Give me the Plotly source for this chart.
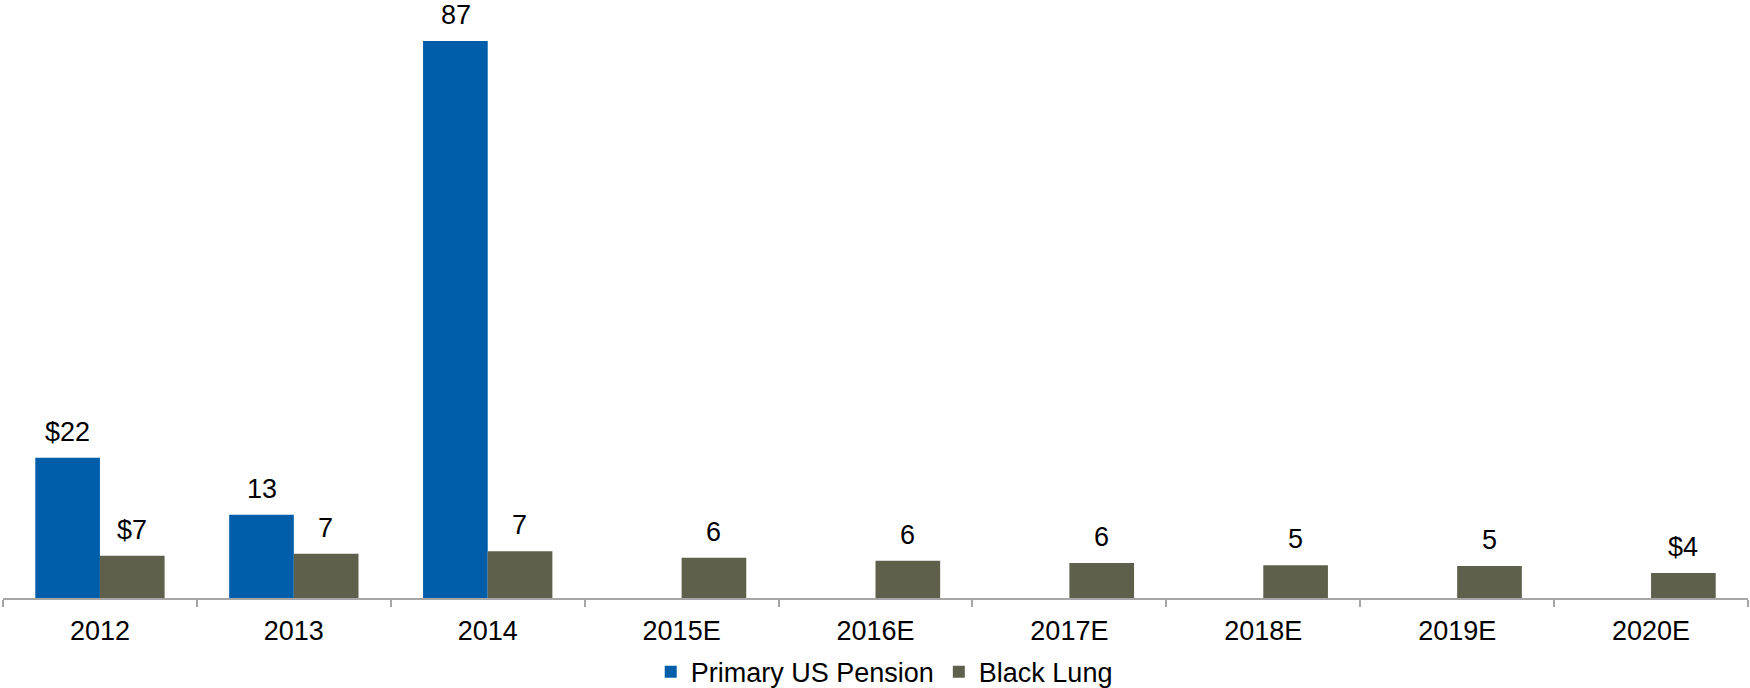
import plotly.graph_objects as go

categories = ["2012", "2013", "2014", "2015E", "2016E", "2017E", "2018E", "2019E", "2020E"]
pension = [21.9, 13.0, 87.0, None, None, None, None, None, None]
pension_labels = ["$22", "13", "87", "", "", "", "", "", ""]
black_lung = [6.6, 6.9, 7.3, 6.3, 5.8, 5.45, 5.1, 5.0, 3.9]
black_lung_labels = ["$7", "7", "7", "6", "6", "6", "5", "5", "$4"]

BLUE = "#005DAA"
OLIVE = "#5E604B"
FONT = dict(family="Liberation Sans, Arial, sans-serif", size=27, color="#000000")

fig = go.Figure()
fig.add_trace(go.Bar(x=categories, y=pension, name="Primary US Pension",
                     marker=dict(color=BLUE, line=dict(width=0))))
fig.add_trace(go.Bar(x=categories, y=black_lung, name="Black Lung",
                     marker=dict(color=OLIVE, line=dict(width=0))))

# data labels (category index used as x on the category axis)
annotations = []
for i, (v, t) in enumerate(zip(pension, pension_labels)):
    if v is not None and t:
        annotations.append(dict(x=i, y=v, xref="x", yref="y", text=t, showarrow=False,
                                yanchor="bottom", xshift=-32, yshift=10, borderpad=0, font=FONT))
for i, (v, t) in enumerate(zip(black_lung, black_lung_labels)):
    annotations.append(dict(x=i, y=v, xref="x", yref="y", text=t, showarrow=False,
                            yanchor="bottom", xshift=32, yshift=10, borderpad=0, font=FONT))

fig.update_layout(
    width=1750, height=688,
    margin=dict(l=3, r=2, t=0, b=90, autoexpand=False),
    paper_bgcolor="white", plot_bgcolor="white",
    barmode="group", bargap=0.333, bargroupgap=0,
    font=FONT,
    showlegend=True,
    legend=dict(orientation="h", x=0.505, xanchor="center", y=-0.124, yanchor="middle",
                font=FONT, itemwidth=30, traceorder="normal"),
    annotations=annotations,
    xaxis=dict(type="category", categoryorder="array", categoryarray=categories,
               range=[-0.5, len(categories) - 0.5], autorange=False,
               showline=True, linecolor="#A6A6A6", linewidth=1.5, ticks="outside",
               tickson="boundaries", ticklen=7, tickcolor="#A6A6A6", tickwidth=1.5,
               ticklabelstandoff=8,
               showgrid=False, zeroline=False, tickfont=FONT, tickangle=0, fixedrange=True),
    yaxis=dict(range=[0, 93.4], autorange=False, visible=False, showgrid=False,
               zeroline=False, fixedrange=True),
)

fig.write_html("out.html")
